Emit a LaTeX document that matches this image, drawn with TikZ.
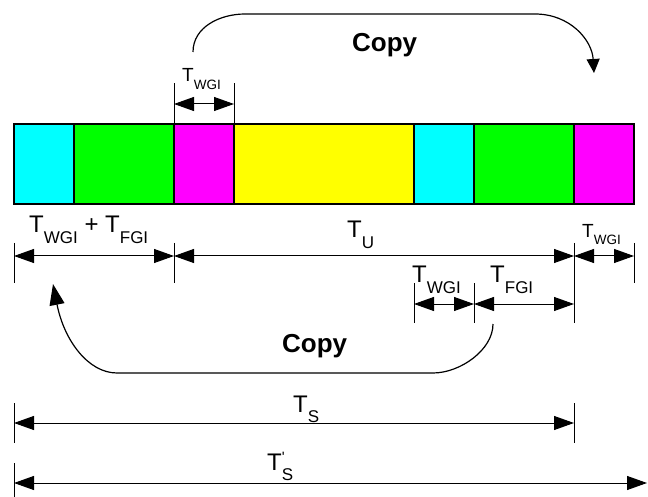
\documentclass[tikz,border=0pt]{standalone}
\usepackage{fontspec}
\setmainfont{Liberation Sans}
\usetikzlibrary{arrows.meta,positioning}

\definecolor{symcyan}{RGB}{0,255,255}
\definecolor{symgreen}{RGB}{0,255,0}
\definecolor{symmag}{RGB}{255,0,255}
\definecolor{symyel}{RGB}{255,255,0}

\tikzset{
  seg/.style={draw,line width=1.2pt,minimum height=80pt,inner sep=0pt,outer sep=0pt},
  dim/.style={{Triangle[length=20pt,width=14pt]}-{Triangle[length=20pt,width=14pt]},line width=1pt},
  tick/.style={line width=1pt},
  cpy/.style={line width=1.2pt},
  lab/.style={inner sep=0pt,anchor=base west,font=\fontsize{24}{24}\selectfont},
  slab/.style={inner sep=0pt,anchor=base west,font=\fontsize{19}{19}\selectfont},
  copylab/.style={inner sep=0pt,anchor=base west,font=\fontsize{26}{26}\selectfont\bfseries},
}

\begin{document}
\begin{tikzpicture}[x=1pt,y=-1pt]
   \newcommand{\Tbig}[1]{T\raisebox{-10.5pt}{\fontsize{17}{17}\selectfont #1}}
   \newcommand{\Tsmall}[1]{T\raisebox{-8pt}{\fontsize{13.5}{13.5}\selectfont #1}}
   \useasboundingbox (0,0) rectangle (648,497);
   % the symbol
   \node[seg,fill=symcyan,minimum width=60pt,anchor=north west] (ca) at (14,124) {};
   \node[seg,fill=symgreen,minimum width=100pt,right=0pt of ca] (ga) {};
   \node[seg,fill=symmag,minimum width=60pt,right=0pt of ga] (ma) {};
   \node[seg,fill=symyel,minimum width=180pt,right=0pt of ma] (yu) {};
   \node[seg,fill=symcyan,minimum width=60pt,right=0pt of yu] (cb) {};
   \node[seg,fill=symgreen,minimum width=100pt,right=0pt of cb] (gb) {};
   \node[seg,fill=symmag,minimum width=60pt,right=0pt of gb] (mb) {};
   % top guard
   \coordinate (tw0) at (174,104);
   \coordinate (tw1) at (234,104);
   \draw[tick] (ma.north west) -- ++(0,-41);
   \draw[tick] (ma.north east) -- ++(0,-41);
   \draw[dim] (tw0) -- (tw1);
   \node[slab] (lwt) at (182,82) {\Tsmall{WGI}};
   % first row
   \coordinate (r1a) at (14,256);
   \coordinate (r1b) at (174,256);
   \coordinate (r1c) at (574,256);
   \coordinate (r1d) at (634,256);
   \draw[tick] (14,243) -- (14,283);
   \draw[tick] (174,243) -- (174,283);
   \draw[tick] (574,243) -- (574,283);
   \draw[tick] (634,243) -- (634,283);
   \draw[dim] (r1a) -- (r1b);
   \draw[dim] (r1b) -- (r1c);
   \draw[dim] (r1c) -- (r1d);
   \node[lab] (lwf) at (29,233) {\Tbig{WGI} + \Tbig{FGI}};
   \node[lab] (lu) at (347,238) {\Tbig{U}};
   \node[slab] (lwr) at (582,237) {\Tsmall{WGI}};
   % second row
   \coordinate (r2a) at (414,304);
   \coordinate (r2b) at (474,304);
   \coordinate (r2c) at (574,304);
   \draw[tick] (414,283) -- (414,323);
   \draw[tick] (474,283) -- (474,323);
   \draw[tick] (574,283) -- (574,323);
   \draw[dim] (r2a) -- (r2b);
   \draw[dim] (r2b) -- (r2c);
   \node[lab] (lw2) at (412,283) {\Tbig{WGI}};
   \node[lab] (lf2) at (490,283) {\Tbig{FGI}};
   % symbol lengths
   \coordinate (sa) at (14,423);
   \coordinate (sb) at (574,423);
   \draw[tick] (14,403) -- (14,443);
   \draw[tick] (574,403) -- (574,443);
   \draw[dim] (sa) -- (sb);
   \node[lab] (ls) at (293,412) {\Tbig{S}};
   \coordinate (pa) at (14,483);
   \coordinate (pb) at (647,483);
   \draw[tick] (14,463) -- (14,497);
   \draw[dim] (pa) -- (pb);
   \node[lab] (lsp) at (267,470) {T\rlap{\fontsize{15}{15}\selectfont\raisebox{8pt}{\textquotesingle}}\raisebox{-10.5pt}{\fontsize{17}{17}\selectfont S}};
   % copies
   \coordinate (cpa) at (193,52);
   \coordinate (cpb) at (594,73);
   \draw[cpy,-{Triangle[length=14pt,width=13pt]}] (cpa) .. controls (193,27) and (220,14) .. (245,14)
      -- (535,14) .. controls (570,14) and (592,40) .. (cpb);
   \node[copylab] (cp1) at (352,52) {Copy};
   \coordinate (cpc) at (493,324);
   \coordinate (cpd) at (53,284);
   \draw[cpy,-{Triangle[length=21pt,width=15pt]}] (cpc) .. controls (493,350) and (460,373) .. (433,373)
      -- (117,373) .. controls (88,373) and (64,340) .. (cpd);
   \node[copylab] (cp2) at (282,352) {Copy};
  \end{tikzpicture}
\end{document}
